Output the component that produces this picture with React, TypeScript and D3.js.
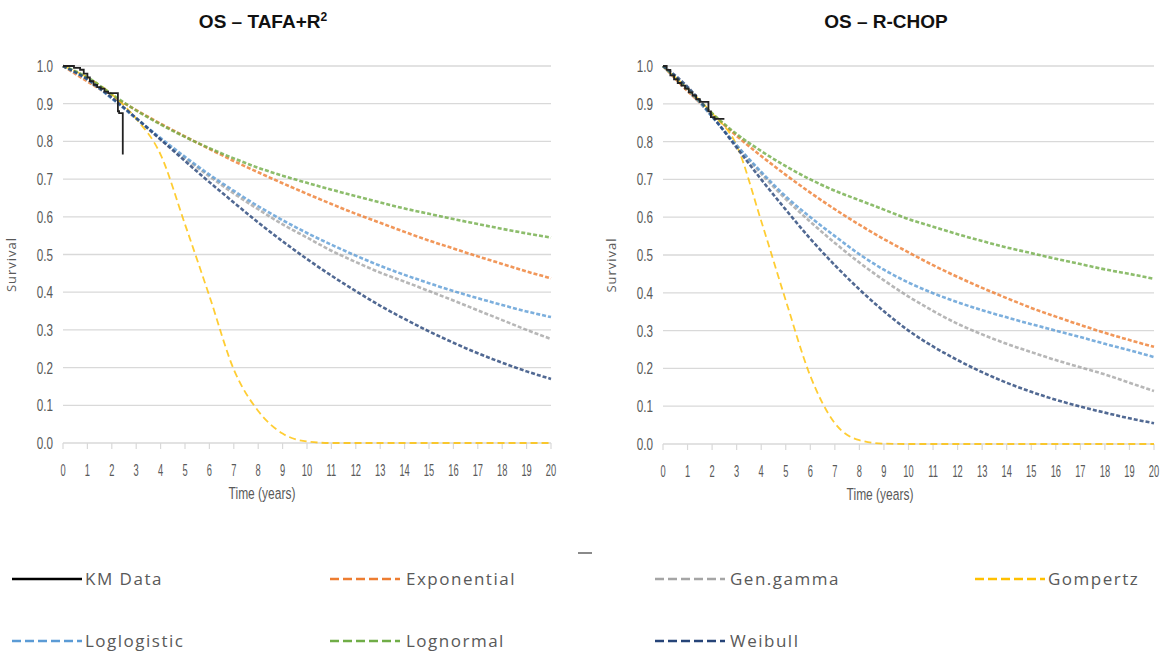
import React from 'react';
import * as d3 from 'd3';

const YEARS = [0, 1, 2, 3, 4, 5, 6, 7, 8, 9, 10, 11, 12, 13, 14, 15, 16, 17, 18, 19, 20];
const Y_TICKS = [0, 0.1, 0.2, 0.3, 0.4, 0.5, 0.6, 0.7, 0.8, 0.9, 1.0];

// OS – TAFA+R²
const TAFA_KM_TIME = [0, 0.45, 0.7, 0.85, 1.0, 1.1, 1.25, 1.4, 1.55, 1.7, 1.85, 2.25, 2.3, 2.45];
const TAFA_KM_SURV = [1.0, 0.995, 0.99, 0.98, 0.97, 0.96, 0.95, 0.944, 0.94, 0.932, 0.928, 0.88, 0.875, 0.765];
const TAFA_EXPONENTIAL = [1, 0.959, 0.92, 0.883, 0.847, 0.813, 0.78, 0.748, 0.718, 0.689, 0.661, 0.634, 0.608, 0.584, 0.56, 0.537, 0.516, 0.495, 0.475, 0.455, 0.437];
const TAFA_GENGAMMA = [1, 0.965, 0.915, 0.86, 0.805, 0.755, 0.707, 0.662, 0.62, 0.58, 0.545, 0.51, 0.48, 0.452, 0.428, 0.403, 0.378, 0.352, 0.326, 0.3, 0.276];
const TAFA_GOMPERTZ = [1, 0.97, 0.925, 0.86, 0.765, 0.58, 0.39, 0.195, 0.085, 0.025, 0.004, 0, 0, 0, 0, 0, 0, 0, 0, 0, 0];
const TAFA_LOGLOGISTIC = [1, 0.964, 0.914, 0.861, 0.809, 0.759, 0.712, 0.669, 0.628, 0.591, 0.557, 0.526, 0.497, 0.47, 0.446, 0.424, 0.403, 0.384, 0.366, 0.349, 0.334];
const TAFA_LOGNORMAL = [1, 0.97, 0.925, 0.882, 0.845, 0.812, 0.782, 0.755, 0.73, 0.709, 0.69, 0.672, 0.655, 0.638, 0.622, 0.608, 0.594, 0.581, 0.568, 0.556, 0.545];
const TAFA_WEIBULL = [1, 0.965, 0.916, 0.862, 0.805, 0.748, 0.692, 0.638, 0.585, 0.535, 0.488, 0.444, 0.403, 0.364, 0.329, 0.296, 0.266, 0.238, 0.213, 0.19, 0.17];

// OS – R-CHOP
const RCHOP_KM_TIME = [0, 0.15, 0.3, 0.45, 0.6, 0.75, 0.9, 1.05, 1.2, 1.35, 1.5, 1.85, 1.95, 2.1, 2.5];
const RCHOP_KM_SURV = [1.0, 0.99, 0.975, 0.965, 0.955, 0.948, 0.94, 0.93, 0.922, 0.912, 0.905, 0.88, 0.865, 0.86, 0.86];
const RCHOP_EXPONENTIAL = [1, 0.934, 0.873, 0.815, 0.762, 0.712, 0.665, 0.621, 0.58, 0.542, 0.507, 0.473, 0.442, 0.413, 0.386, 0.36, 0.337, 0.315, 0.294, 0.275, 0.257];
const RCHOP_GENGAMMA = [1, 0.94, 0.866, 0.79, 0.715, 0.648, 0.588, 0.532, 0.48, 0.433, 0.39, 0.352, 0.318, 0.29, 0.265, 0.243, 0.222, 0.203, 0.184, 0.162, 0.14];
const RCHOP_GOMPERTZ = [1, 0.94, 0.875, 0.79, 0.59, 0.38, 0.18, 0.055, 0.01, 0.001, 0, 0, 0, 0, 0, 0, 0, 0, 0, 0, 0];
const RCHOP_LOGLOGISTIC = [1, 0.94, 0.866, 0.79, 0.72, 0.655, 0.6, 0.55, 0.502, 0.461, 0.427, 0.399, 0.375, 0.354, 0.335, 0.317, 0.3, 0.283, 0.265, 0.248, 0.23];
const RCHOP_LOGNORMAL = [1, 0.94, 0.875, 0.82, 0.775, 0.735, 0.7, 0.67, 0.645, 0.62, 0.595, 0.575, 0.555, 0.537, 0.52, 0.505, 0.49, 0.476, 0.462, 0.45, 0.437];
const RCHOP_WEIBULL = [1, 0.945, 0.868, 0.784, 0.7, 0.62, 0.543, 0.473, 0.409, 0.351, 0.3, 0.258, 0.222, 0.19, 0.162, 0.138, 0.117, 0.099, 0.083, 0.068, 0.055];

const STYLE: Record<string, { color: string; dash: string; width: number }> = {
  Exponential: { color: '#ED7D31', dash: '4 2', width: 2.6 },
  'Gen.gamma': { color: '#A5A5A5', dash: '4 2', width: 2.6 },
  Gompertz: { color: '#FFC000', dash: '7 4', width: 1.8 },
  Loglogistic: { color: '#5B9BD5', dash: '4 2', width: 2.6 },
  Lognormal: { color: '#70AD47', dash: '4 2', width: 2.6 },
  Weibull: { color: '#264478', dash: '4 2', width: 2.6 },
};

type PanelProps = {
  title: string;
  sup?: string;
  titleX: number;
  x0: number;
  x1: number;
  yTop: number;
  yBot: number;
  xLabelX: number;
  survX: number;
  kmTime: number[];
  kmSurv: number[];
  series: { name: string; values: number[] }[];
};

const tickFont = 'Liberation Sans, Arial, sans-serif';

function Panel(p: PanelProps) {
  const x = d3.scaleLinear().domain([0, 20]).range([p.x0, p.x1]);
  const y = d3.scaleLinear().domain([0, 1]).range([p.yBot, p.yTop]);
  const line = d3
    .line<[number, number]>()
    .x((d) => x(d[0]))
    .y((d) => y(d[1]))
    .curve(d3.curveMonotoneX);
  const kmLine = d3
    .line<[number, number]>()
    .x((d) => x(d[0]))
    .y((d) => y(d[1]))
    .curve(d3.curveStepAfter);
  const order = ['Exponential', 'Gen.gamma', 'Gompertz', 'Loglogistic', 'Lognormal', 'Weibull'];
  return (
    <g>
      <text
        x={p.titleX}
        y={28}
        textAnchor="middle"
        fontFamily="Liberation Sans, Arial, sans-serif"
        fontWeight="bold"
        fontSize={19}
        fill="#111"
      >
        {p.title}
        {p.sup ? (
          <tspan fontSize={12} dy={-7}>
            {p.sup}
          </tspan>
        ) : null}
      </text>
      {Y_TICKS.map((t) => (
        <g key={'g' + t}>
          <line x1={p.x0} x2={p.x1} y1={y(t)} y2={y(t)} stroke="#D9D9D9" strokeWidth={1.3} />
          <text
            transform={`translate(${p.x0 - 10},${y(t) + 6}) scale(0.78,1.1)`}
            textAnchor="end"
            fontFamily={tickFont}
            fontSize={15}
            fill="#595959"
          >
            {t.toFixed(1)}
          </text>
        </g>
      ))}
      {YEARS.map((t) => (
        <g key={'x' + t}>
          <line x1={x(t)} x2={x(t)} y1={p.yBot} y2={p.yBot + 6} stroke="#D9D9D9" strokeWidth={1.2} />
          <text
            transform={`translate(${x(t)},${p.yBot + 33}) scale(0.62,1.1)`}
            textAnchor="middle"
            fontFamily={tickFont}
            fontSize={15}
            fill="#595959"
          >
            {t}
          </text>
        </g>
      ))}
      <text
        transform={`translate(${p.xLabelX},${p.yBot + 56}) scale(0.8,1.1)`}
        textAnchor="middle"
        fontFamily={tickFont}
        fontSize={15}
        fill="#595959"
      >
        Time (years)
      </text>
      <text
        transform={`translate(${p.survX},${(p.yTop + p.yBot) / 2 + 10}) rotate(-90)`}
        textAnchor="middle"
        fontFamily="Open Sans, sans-serif"
        fontSize={13}
        letterSpacing={1}
        fill="#595959"
      >
        Survival
      </text>
      {order.map((name) => {
        const s = p.series.find((q) => q.name === name)!;
        const st = STYLE[name];
        const pts: [number, number][] = YEARS.map((t, i) => [t, s.values[i]]);
        return (
          <path
            key={name}
            d={line(pts) || ''}
            fill="none"
            stroke={st.color}
            strokeOpacity={0.8}
            strokeWidth={st.width}
            strokeDasharray={st.dash}
          />
        );
      })}
      <path
        d={kmLine(p.kmTime.map((t, i) => [t, p.kmSurv[i]] as [number, number])) || ''}
        fill="none"
        stroke="#222"
        strokeWidth={1.8}
      />
    </g>
  );
}

const LEGEND = [
  { name: 'KM Data', lx: 12, tx: 85, row: 0 },
  { name: 'Exponential', lx: 330, tx: 406, row: 0 },
  { name: 'Gen.gamma', lx: 655, tx: 730, row: 0 },
  { name: 'Gompertz', lx: 975, tx: 1048, row: 0 },
  { name: 'Loglogistic', lx: 12, tx: 85, row: 1 },
  { name: 'Lognormal', lx: 330, tx: 406, row: 1 },
  { name: 'Weibull', lx: 655, tx: 730, row: 1 },
];

export default function App() {
  const rowY = [579, 641];
  return (
    <svg
      width={1164}
      height={652}
      style={{ position: 'absolute', left: 0, top: 0, background: '#fff' }}
    >
      <rect width={1164} height={652} fill="#fff" />
      <Panel
        title="OS – TAFA+R"
        sup="2"
        titleX={263}
        x0={63}
        x1={551}
        yTop={66}
        yBot={443}
        xLabelX={262}
        survX={16}
        kmTime={TAFA_KM_TIME}
        kmSurv={TAFA_KM_SURV}
        series={[
          { name: 'Exponential', values: TAFA_EXPONENTIAL },
          { name: 'Gen.gamma', values: TAFA_GENGAMMA },
          { name: 'Gompertz', values: TAFA_GOMPERTZ },
          { name: 'Loglogistic', values: TAFA_LOGLOGISTIC },
          { name: 'Lognormal', values: TAFA_LOGNORMAL },
          { name: 'Weibull', values: TAFA_WEIBULL },
        ]}
      />
      <Panel
        title="OS – R-CHOP"
        titleX={886}
        x0={663}
        x1={1154}
        yTop={66}
        yBot={444}
        xLabelX={880}
        survX={616}
        kmTime={RCHOP_KM_TIME}
        kmSurv={RCHOP_KM_SURV}
        series={[
          { name: 'Exponential', values: RCHOP_EXPONENTIAL },
          { name: 'Gen.gamma', values: RCHOP_GENGAMMA },
          { name: 'Gompertz', values: RCHOP_GOMPERTZ },
          { name: 'Loglogistic', values: RCHOP_LOGLOGISTIC },
          { name: 'Lognormal', values: RCHOP_LOGNORMAL },
          { name: 'Weibull', values: RCHOP_WEIBULL },
        ]}
      />
      <line x1={578} x2={592} y1={553} y2={553} stroke="#8a8a8a" strokeWidth={2} />
      {LEGEND.map((l) => {
        const yy = rowY[l.row];
        const isKM = l.name === 'KM Data';
        const st = STYLE[l.name];
        return (
          <g key={l.name}>
            <line
              x1={l.lx}
              x2={l.lx + 70}
              y1={yy}
              y2={yy}
              stroke={isKM ? '#000' : st.color}
              strokeWidth={isKM ? 2.6 : 2.4}
              strokeDasharray={isKM ? undefined : '9 4'}
            />
            <text
              x={l.tx}
              y={yy + 6}
              fontFamily="Open Sans, sans-serif"
              fontSize={17}
              letterSpacing={1.5}
              fill="#595959"
            >
              {l.name}
            </text>
          </g>
        );
      })}
    </svg>
  );
}
